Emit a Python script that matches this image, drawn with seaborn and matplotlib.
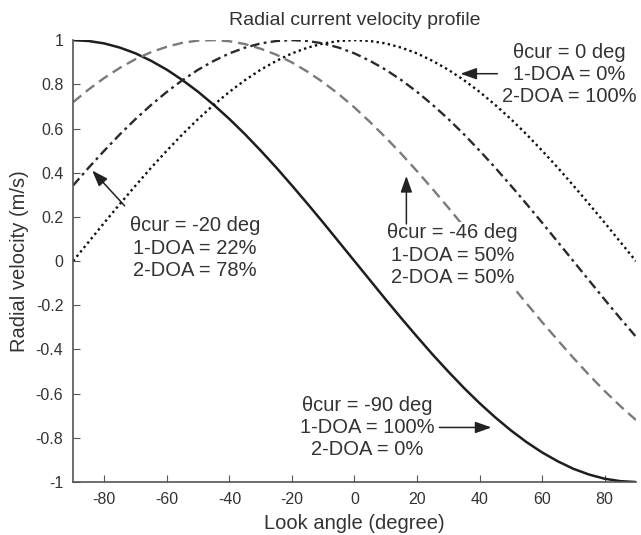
import matplotlib
matplotlib.use("Agg")
import matplotlib.pyplot as plt
import seaborn as sns

sns.set_style("ticks")
plt.rcParams['font.family'] = ['Liberation Sans', 'DejaVu Sans']
plt.rcParams['axes.unicode_minus'] = False

look_angle = list(range(-90, 91, 5))

v_cur_m90 = [1.00, 0.996, 0.985, 0.966, 0.94, 0.906, 0.866, 0.819, 0.766, 0.707, 0.643, 0.574,
             0.5, 0.423, 0.342, 0.259, 0.174, 0.087, 0.0, -0.087, -0.174, -0.259, -0.342, -0.423,
             -0.5, -0.574, -0.643, -0.707, -0.766, -0.819, -0.866, -0.906, -0.94, -0.966, -0.985,
             -0.996, -1.0]
v_cur_m46 = [0.719, 0.777, 0.829, 0.875, 0.914, 0.946, 0.970, 0.988, 0.998, 1.000, 0.995, 0.982,
             0.961, 0.934, 0.899, 0.857, 0.809, 0.755, 0.695, 0.629, 0.559, 0.485, 0.407, 0.326,
             0.242, 0.156, 0.070, -0.017, -0.105, -0.191, -0.276, -0.358, -0.438, -0.515, -0.588,
             -0.656, -0.719]
v_cur_m20 = [0.342, 0.423, 0.5, 0.574, 0.643, 0.707, 0.766, 0.819, 0.866, 0.906, 0.94, 0.966,
             0.985, 0.996, 1.0, 0.996, 0.985, 0.966, 0.94, 0.906, 0.866, 0.819, 0.766, 0.707,
             0.643, 0.574, 0.5, 0.423, 0.342, 0.259, 0.174, 0.087, 0.0, -0.087, -0.174, -0.259,
             -0.342]
v_cur_0 = [0.0, 0.087, 0.174, 0.259, 0.342, 0.423, 0.5, 0.574, 0.643, 0.707, 0.766, 0.819,
           0.866, 0.906, 0.94, 0.966, 0.985, 0.996, 1.0, 0.996, 0.985, 0.966, 0.94, 0.906,
           0.866, 0.819, 0.766, 0.707, 0.643, 0.574, 0.5, 0.423, 0.342, 0.259, 0.174, 0.087, 0.0]

x_ticks = [-80, -60, -40, -20, 0, 20, 40, 60, 80]
y_ticks = [1, 0.8, 0.6, 0.4, 0.2, 0, -0.2, -0.4, -0.6, -0.8, -1]
y_tick_labels = ["1", "0.8", "0.6", "0.4", "0.2", "0", "-0.2", "-0.4", "-0.6", "-0.8", "-1"]

labels = ["θcur = 0 deg\n1-DOA = 0%\n2-DOA = 100%",
          "θcur = -20 deg\n1-DOA = 22%\n2-DOA = 78%",
          "θcur = -46 deg\n1-DOA = 50%\n2-DOA = 50%",
          "θcur = -90 deg\n1-DOA = 100%\n2-DOA = 0%"]

txt = "#333333"
fig = plt.figure(figsize=(6.41, 5.35), dpi=100)
ax = fig.add_axes([0.114, 0.099, 0.878, 0.826])

sns.lineplot(x=look_angle, y=v_cur_m90, ax=ax, color="#1e1e1e", lw=1.8, linestyle="-")
sns.lineplot(x=look_angle, y=v_cur_m46, ax=ax, color="#7a7a7a", lw=1.7, linestyle=(0, (4.5, 2.5)))
sns.lineplot(x=look_angle, y=v_cur_m20, ax=ax, color="#2a2a2a", lw=1.7, linestyle=(0, (4, 1.8, 1.2, 1.8)))
sns.lineplot(x=look_angle, y=v_cur_0, ax=ax, color="#111111", lw=1.7, linestyle=(0, (1, 1.4)))

ax.set_xlim(-90, 90)
ax.set_ylim(-1, 1)
ax.set_xticks(x_ticks)
ax.set_yticks(y_ticks)
ax.set_yticklabels(y_tick_labels)
ax.tick_params(direction="in", length=5, color="#555555", labelsize=11.5, labelcolor=txt, pad=7)
for s in ["top", "right"]:
    ax.spines[s].set_visible(False)
for s in ["left", "bottom"]:
    ax.spines[s].set_color("#555555")
    ax.spines[s].set_linewidth(1.2)

ax.set_title("Radial current velocity profile", fontsize=14, color=txt, pad=11)
ax.set_xlabel("Look angle (degree)", fontsize=14.5, color=txt, labelpad=5)
ax.set_ylabel("Radial velocity (m/s)", fontsize=14.5, color=txt, labelpad=5)

afs = 14.5
box = dict(fc="white", ec="none", pad=1)
arrow = dict(arrowstyle="-|>,head_length=0.7,head_width=0.25", color="#222222", lw=1.1,
             mutation_scale=14, shrinkA=0, shrinkB=0)

text_pos = [(68.7, 0.844), (-51.0, 0.058), (31.4, 0.027), (4.2, -0.753)]
for (tx, ty), lab in zip(text_pos, labels):
    ax.text(tx, ty, lab, fontsize=afs, color=txt, ha="center", va="center",
            linespacing=1.22, bbox=box, zorder=3)

arrow_pos = [((33.9, 0.848), (45.7, 0.848)),
             ((-83.9, 0.41), (-73.5, 0.25)),
             ((16.6, 0.385), (16.6, 0.168)),
             ((43.8, -0.753), (27.2, -0.753))]
for tip, tail in arrow_pos:
    ax.annotate("", xy=tip, xytext=tail, arrowprops=arrow, zorder=4)

fig.savefig("out.png", dpi=100)
